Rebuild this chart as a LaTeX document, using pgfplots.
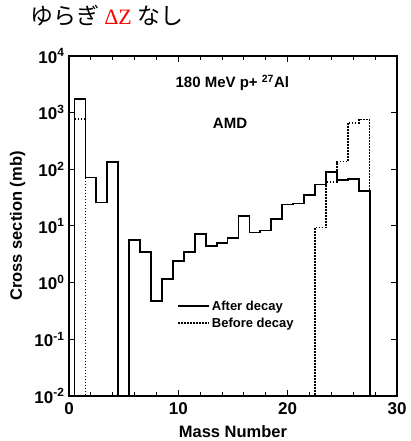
\documentclass[border=0pt]{standalone}
\usepackage{pgfplots}
\pgfplotsset{compat=1.18}
\usepackage{fontspec}
\setmainfont{Liberation Sans}
\newfontfamily\jp{Noto Sans CJK JP}
\newfontfamily\serif{Liberation Serif}
\begin{document}
\begin{tikzpicture}[x=1pt,y=1pt]
\useasboundingbox (0,0) rectangle (410,441);
\node[anchor=base west, inner sep=0] at (30,416) {\fontsize{23}{23}\selectfont\jp ゆらぎ {\fontsize{22}{22}\selectfont\serif\color{red}ΔZ} なし};
\begin{axis}[
  at={(69pt,45pt)}, anchor=south west, scale only axis,
  width=328pt, height=340pt,
  xmin=0, xmax=30, ymin=1e-2, ymax=1e4, ymode=log,
  xtick={0,10,20,30}, xticklabels={0,10,20,30},
  minor xtick={2,4,6,8,12,14,16,18,22,24,26,28},
  ytick={1e-2,1e-1,1,10,100,1000,10000},
  yticklabels={10\textsuperscript{-2},10\textsuperscript{-1},10\textsuperscript{0},10\textsuperscript{1},10\textsuperscript{2},10\textsuperscript{3},10\textsuperscript{4}},
  yminorticks=false,
  /pgf/number format/assume math mode=true,
  tick align=inside, major tick length=6pt, minor tick length=4pt,
  axis line style={line width=1.2pt},
  every tick/.style={line width=1pt, black},
  ticklabel style={font=\bfseries\fontsize{17}{17}\selectfont},
  xticklabel style={yshift=-3pt},
  yticklabel style={xshift=-1pt},
  xlabel={\bfseries Mass Number},
  ylabel={\bfseries Cross section (mb)},
  label style={font=\bfseries\fontsize{16.5}{16.5}\selectfont},
  xlabel style={at={(axis description cs:0.5,-0.106)}, anchor=center},
  ylabel style={at={(axis description cs:-0.157,0.5)}, anchor=center},
  legend style={at={(0.32,0.292)}, anchor=north west, draw=none, fill=none,
    font=\bfseries\fontsize{13}{13}\selectfont, row sep=2pt},
  legend cell align=left,
  legend image code/.code={\draw[#1] (0pt,0pt) -- (25pt,0pt); \path (0pt,0pt) -- (31pt,0pt);},
  clip=true,
]
\addplot[const plot, black, line width=1.8pt] coordinates {
(0.5,1e-5) (0.5,1720) (1.5,72) (2.5,26) (3.5,133) (4.5,1e-5) (5.5,5.7) (6.5,3.5)
(7.5,0.48) (8.5,1.15) (9.5,2.4) (10.5,3.5) (11.5,7.3) (12.5,4.4) (13.5,5.0)
(14.5,6.1) (15.5,15) (16.5,7.7) (17.5,8.3) (18.5,13.3) (19.5,24) (20.5,25)
(21.5,35) (22.5,54) (23.5,91) (24.5,65) (25.5,68) (26.5,42) (27.5,1e-5) (30,1e-5)
};
\addlegendentry{After decay}
\addplot[const plot, black, line width=1.6pt, dash pattern=on 1.5pt off 1.5pt] coordinates {
(0.5,1e-5) (0.5,764) (1.5,1e-5) (22.5,9.4) (23.5,60) (24.5,137) (25.5,665)
(26.5,760) (27.5,1e-5) (30,1e-5)
};
\addlegendentry{Before decay}
\node[font=\bfseries\fontsize{15}{15}\selectfont] at (rel axis cs:0.498,0.921) {180 MeV p+ \textsuperscript{27}Al};
\node[font=\bfseries\fontsize{15}{15}\selectfont] at (rel axis cs:0.491,0.803) {AMD};
\end{axis}
\end{tikzpicture}
\end{document}
